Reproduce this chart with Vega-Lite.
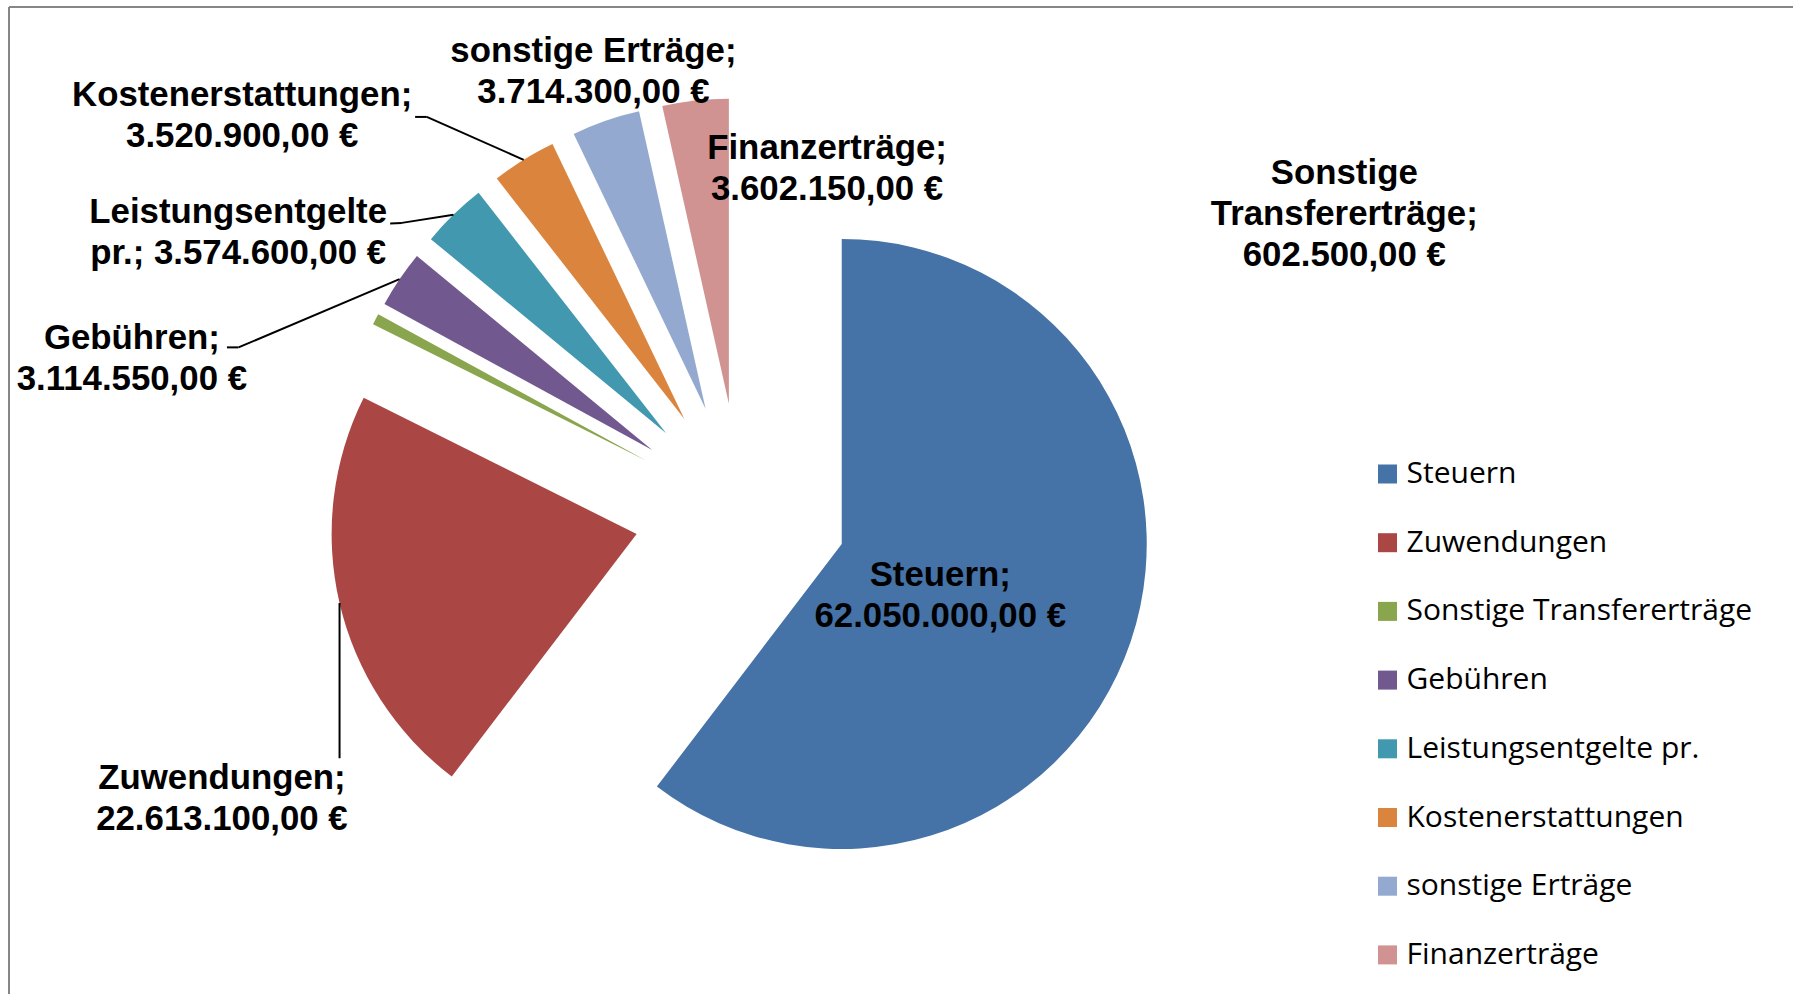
{
  "$schema": "https://vega.github.io/schema/vega-lite/v6.json",
  "width": 1784,
  "height": 987,
  "autosize": {"type": "none"},
  "padding": {"left": 9, "top": 7, "right": 0, "bottom": 0},
  "background": "#ffffff",
  "config": {"view": {"stroke": null}, "font": "Liberation Sans"},
  "layer": [
    {
      "data": {"values": [{}]},
      "mark": {"type": "rule", "color": "#868686", "strokeWidth": 2},
      "encoding": {
        "x": {"datum": -2.39869, "type": "quantitative", "scale": {"domain": [-2.39869, 3.45049], "nice": false, "zero": false}, "axis": null},
        "y": {"datum": -1.58754, "type": "quantitative", "scale": {"domain": [-1.58754, 1.64852], "nice": false, "zero": false}, "axis": null},
        "y2": {"datum": 1.64852}
      }
    },
    {
      "data": {"values": [{}]},
      "mark": {"type": "rule", "color": "#868686", "strokeWidth": 2},
      "encoding": {
        "x": {"datum": -2.39869, "type": "quantitative", "scale": {"domain": [-2.39869, 3.45049], "nice": false, "zero": false}, "axis": null},
        "x2": {"datum": 3.45049},
        "y": {"datum": 1.64852, "type": "quantitative", "scale": {"domain": [-1.58754, 1.64852], "nice": false, "zero": false}, "axis": null}
      }
    },
    {
      "data": {
        "values": [
          {"cat": "Steuern", "value": 62050000, "lines": ["Steuern;", "62.050.000,00 €"]},
          {"cat": "Zuwendungen", "value": 22613100, "lines": ["Zuwendungen;", "22.613.100,00 €"]},
          {"cat": "Sonstige Transfererträge", "value": 602500, "lines": ["Sonstige", "Transfererträge;", "602.500,00 €"]},
          {"cat": "Gebühren", "value": 3114550, "lines": ["Gebühren;", "3.114.550,00 €"]},
          {"cat": "Leistungsentgelte pr.", "value": 3574600, "lines": ["Leistungsentgelte", "pr.; 3.574.600,00 €"]},
          {"cat": "Kostenerstattungen", "value": 3520900, "lines": ["Kostenerstattungen;", "3.520.900,00 €"]},
          {"cat": "sonstige Erträge", "value": 3714300, "lines": ["sonstige Erträge;", "3.714.300,00 €"]},
          {"cat": "Finanzerträge", "value": 3602150, "lines": ["Finanzerträge;", "3.602.150,00 €"]}
        ]
      },
      "transform": [
        {"window": [{"op": "row_number", "as": "i"}]},
        {"window": [{"op": "sum", "field": "value", "as": "cum"}], "sort": [{"field": "i", "order": "ascending"}], "frame": [null, 0]},
        {"joinaggregate": [{"op": "sum", "field": "value", "as": "total"}]},
        {"calculate": "(datum.cum - datum.value) / datum.total", "as": "a0"},
        {"calculate": "datum.cum / datum.total", "as": "a1"},
        {"calculate": "2 * PI * (datum.cum - datum.value / 2) / datum.total", "as": "am"},
        {"calculate": "0.35 * sin(datum.am)", "as": "ex"},
        {"calculate": "0.35 * cos(datum.am)", "as": "ey"},
        {"calculate": "1.35 * sin(datum.am)", "as": "ox"},
        {"calculate": "1.35 * cos(datum.am)", "as": "oy"}
      ],
      "encoding": {
        "x": {"field": "ex", "type": "quantitative", "scale": {"domain": [-2.39869, 3.45049], "nice": false, "zero": false}, "axis": null},
        "y": {"field": "ey", "type": "quantitative", "scale": {"domain": [-1.58754, 1.64852], "nice": false, "zero": false}, "axis": null}
      },
      "layer": [
        {
          "mark": {"type": "arc", "radius": 305, "radius2": 0},
          "encoding": {
            "theta": {"field": "a0", "type": "quantitative", "scale": {"domain": [0, 1]}, "stack": null},
            "theta2": {"field": "a1"},
            "color": {
              "field": "cat",
              "type": "nominal",
              "sort": null,
              "scale": {
                "domain": ["Steuern", "Zuwendungen", "Sonstige Transfererträge", "Gebühren", "Leistungsentgelte pr.", "Kostenerstattungen", "sonstige Erträge", "Finanzerträge"],
                "range": ["#4572A7", "#AA4643", "#89A54E", "#71588F", "#4198AF", "#DB843D", "#93A9CF", "#D19392"]
              },
              "legend": {
                "orient": "none",
                "legendX": 1363.5,
                "legendY": 452,
                "title": null,
                "padding": 0,
                "symbolType": "square",
                "symbolSize": 361,
                "symbolStrokeWidth": 0,
                "symbolOpacity": 1,
                "labelFont": "Open Sans",
                "labelFontSize": 30,
                "labelColor": "#000000",
                "labelOffset": 4,
                "labelLimit": 0,
                "rowPadding": 38.7
              }
            }
          }
        },
        {
          "transform": [
            {"filter": "datum.cat == 'Kostenerstattungen'"},
            {"calculate": "datum.ox - 0.3177", "as": "px"},
            {"calculate": "datum.oy + 0.1406", "as": "py"},
            {"calculate": "datum.px - 0.0383", "as": "qx"}
          ],
          "layer": [
            {"mark": {"type": "rule", "color": "#000000", "strokeWidth": 2},
             "encoding": {"x": {"field": "ox", "type": "quantitative"}, "y": {"field": "oy", "type": "quantitative"}, "x2": {"field": "px"}, "y2": {"field": "py"}}},
            {"mark": {"type": "rule", "color": "#000000", "strokeWidth": 2},
             "encoding": {"x": {"field": "px", "type": "quantitative"}, "y": {"field": "py", "type": "quantitative"}, "x2": {"field": "qx"}, "y2": {"field": "py"}}}
          ]
        },
        {
          "transform": [
            {"filter": "datum.cat == 'Leistungsentgelte pr.'"},
            {"calculate": "datum.ox - 0.1692", "as": "px"},
            {"calculate": "datum.oy - 0.0269", "as": "py"},
            {"calculate": "datum.px - 0.0384", "as": "qx"},
            {"calculate": "datum.py - 0.002", "as": "qy"}
          ],
          "layer": [
            {"mark": {"type": "rule", "color": "#000000", "strokeWidth": 2},
             "encoding": {"x": {"field": "ox", "type": "quantitative"}, "y": {"field": "oy", "type": "quantitative"}, "x2": {"field": "px"}, "y2": {"field": "py"}}},
            {"mark": {"type": "rule", "color": "#000000", "strokeWidth": 2},
             "encoding": {"x": {"field": "px", "type": "quantitative"}, "y": {"field": "py", "type": "quantitative"}, "x2": {"field": "qx"}, "y2": {"field": "qy"}}}
          ]
        },
        {
          "transform": [
            {"filter": "datum.cat == 'Gebühren'"},
            {"calculate": "datum.ox - 0.5279", "as": "px"},
            {"calculate": "datum.oy - 0.2238", "as": "py"},
            {"calculate": "datum.px - 0.038", "as": "qx"}
          ],
          "layer": [
            {"mark": {"type": "rule", "color": "#000000", "strokeWidth": 2},
             "encoding": {"x": {"field": "ox", "type": "quantitative"}, "y": {"field": "oy", "type": "quantitative"}, "x2": {"field": "px"}, "y2": {"field": "py"}}},
            {"mark": {"type": "rule", "color": "#000000", "strokeWidth": 2},
             "encoding": {"x": {"field": "px", "type": "quantitative"}, "y": {"field": "py", "type": "quantitative"}, "x2": {"field": "qx"}, "y2": {"field": "py"}}}
          ]
        },
        {
          "transform": [
            {"filter": "datum.cat == 'Zuwendungen'"},
            {"calculate": "datum.oy - 0.5088", "as": "py"}
          ],
          "mark": {"type": "rule", "color": "#000000", "strokeWidth": 2},
          "encoding": {"x": {"field": "ox", "type": "quantitative"}, "y": {"field": "oy", "type": "quantitative"}, "y2": {"field": "py"}}
        },
        {
          "transform": [{"filter": "datum.cat == 'Steuern'"}],
          "mark": {"type": "text", "font": "Liberation Sans", "fontWeight": "bold", "fontSize": 34.8, "lineHeight": 41, "align": "center", "baseline": "middle", "color": "#000000", "dx": 98.5, "dy": 31.8},
          "encoding": {"text": {"field": "lines", "type": "nominal"}}
        },
        {
          "transform": [{"filter": "datum.cat == 'Zuwendungen'"}],
          "mark": {"type": "text", "font": "Liberation Sans", "fontWeight": "bold", "fontSize": 34.8, "lineHeight": 41, "align": "center", "baseline": "middle", "color": "#000000", "dx": -414.7, "dy": 245.3},
          "encoding": {"text": {"field": "lines", "type": "nominal"}}
        },
        {
          "transform": [{"filter": "datum.cat == 'Sonstige Transfererträge'"}],
          "mark": {"type": "text", "font": "Liberation Sans", "fontWeight": "bold", "fontSize": 34.8, "lineHeight": 41, "align": "center", "baseline": "middle", "color": "#000000", "dx": 698.3, "dy": -286.8},
          "encoding": {"text": {"field": "lines", "type": "nominal"}}
        },
        {
          "transform": [{"filter": "datum.cat == 'Gebühren'"}],
          "mark": {"type": "text", "font": "Liberation Sans", "fontWeight": "bold", "fontSize": 34.8, "lineHeight": 41, "align": "center", "baseline": "middle", "color": "#000000", "dx": -520.3, "dy": -110.6},
          "encoding": {"text": {"field": "lines", "type": "nominal"}}
        },
        {
          "transform": [{"filter": "datum.cat == 'Leistungsentgelte pr.'"}],
          "mark": {"type": "text", "font": "Liberation Sans", "fontWeight": "bold", "fontSize": 34.8, "lineHeight": 41, "align": "center", "baseline": "middle", "color": "#000000", "dx": -428, "dy": -220.5},
          "encoding": {"text": {"field": "lines", "type": "nominal"}}
        },
        {
          "transform": [{"filter": "datum.cat == 'Kostenerstattungen'"}],
          "mark": {"type": "text", "font": "Liberation Sans", "fontWeight": "bold", "fontSize": 34.8, "lineHeight": 41, "align": "center", "baseline": "middle", "color": "#000000", "dx": -442.2, "dy": -323.3},
          "encoding": {"text": {"field": "lines", "type": "nominal"}}
        },
        {
          "transform": [{"filter": "datum.cat == 'sonstige Erträge'"}],
          "mark": {"type": "text", "font": "Liberation Sans", "fontWeight": "bold", "fontSize": 34.8, "lineHeight": 41, "align": "center", "baseline": "middle", "color": "#000000", "dx": -112.2, "dy": -357.4},
          "encoding": {"text": {"field": "lines", "type": "nominal"}}
        },
        {
          "transform": [{"filter": "datum.cat == 'Finanzerträge'"}],
          "mark": {"type": "text", "font": "Liberation Sans", "fontWeight": "bold", "fontSize": 34.8, "lineHeight": 41, "align": "center", "baseline": "middle", "color": "#000000", "dx": 98.2, "dy": -255},
          "encoding": {"text": {"field": "lines", "type": "nominal"}}
        }
      ]
    }
  ]
}
